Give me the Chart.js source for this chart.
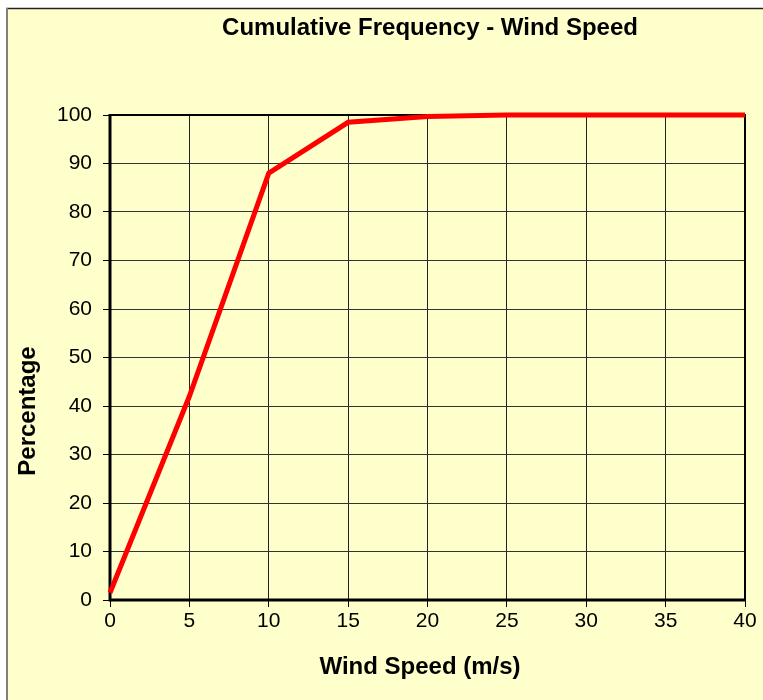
<!DOCTYPE html>
<html>
<head>
<meta charset="utf-8">
<script src="https://cdn.jsdelivr.net/npm/chart.js@4/dist/chart.umd.min.js"></script>
<style>
  html, body { margin: 0; padding: 0; background: #ffffff; }
  #wrap { width: 763px; height: 700px; position: relative; }
</style>
</head>
<body>
<div id="wrap"><canvas id="c" width="763" height="700"></canvas></div>
<script>
// Wind speed bins (m/s) and cumulative frequency (%)
const windSpeed = [0, 5, 10, 15, 20, 25, 30, 35, 40];
const cumulativePct = [1.5, 42, 88, 98.5, 99.7, 100, 100, 100, 100];
const xTicks = [0, 5, 10, 15, 20, 25, 30, 35, 40];
const yTicks = [0, 10, 20, 30, 40, 50, 60, 70, 80, 90, 100];

const chartTitle = 'Cumulative Frequency - Wind Speed';
const xTitle = 'Wind Speed (m/s)';
const yTitle = 'Percentage';

const FONT = 'Arial, "Liberation Sans", Helvetica, sans-serif';
const BG = '#FFFFCC';

const frame = {
  id: 'frame',
  beforeDraw(chart) {
    const ctx = chart.ctx;
    ctx.save();
    ctx.fillStyle = '#ffffff';
    ctx.fillRect(0, 0, chart.width, chart.height);
    ctx.fillStyle = BG;
    ctx.fillRect(7, 9, chart.width - 7, chart.height - 9);
    ctx.lineWidth = 1.5;
    ctx.strokeStyle = '#222222';
    ctx.beginPath();
    ctx.moveTo(6, 8.5);
    ctx.lineTo(chart.width, 8.5);
    ctx.stroke();
    ctx.strokeStyle = '#808080';
    ctx.lineWidth = 2;
    ctx.beginPath();
    ctx.moveTo(7, 8);
    ctx.lineTo(7, chart.height);
    ctx.stroke();
    ctx.restore();
  },
  beforeDatasetsDraw(chart) {
    const a = chart.chartArea;
    const ctx = chart.ctx;
    ctx.save();
    ctx.strokeStyle = '#000000';
    ctx.lineWidth = 2;
    ctx.beginPath();
    ctx.moveTo(a.left, a.top);
    ctx.lineTo(a.right, a.top);
    ctx.lineTo(a.right, a.bottom);
    ctx.stroke();
    ctx.lineWidth = 3;
    ctx.beginPath();
    ctx.moveTo(a.left, a.top - 1);
    ctx.lineTo(a.left, a.bottom);
    ctx.lineTo(a.right + 1, a.bottom);
    ctx.stroke();
    ctx.restore();
  },
  afterDraw(chart) {
    const ctx = chart.ctx;
    ctx.save();
    ctx.fillStyle = '#000000';
    ctx.textAlign = 'center';
    ctx.textBaseline = 'middle';
    ctx.font = 'bold 24px ' + FONT;
    ctx.fillText(chartTitle, 430, 28);
    ctx.fillText(xTitle, 420, 667);
    ctx.translate(28, 411);
    ctx.rotate(-Math.PI / 2);
    ctx.fillText(yTitle, 0, 0);
    ctx.restore();
  }
};

new Chart(document.getElementById('c'), {
  type: 'line',
  data: {
    datasets: [{
      data: windSpeed.map((x, i) => ({ x, y: cumulativePct[i] })),
      borderColor: '#FF0000',
      borderWidth: 5,
      pointRadius: 0,
      tension: 0,
      fill: false,
      clip: false
    }]
  },
  options: {
    responsive: false,
    animation: false,
    devicePixelRatio: 1,
    layout: { padding: { top: 115, right: 18, left: 0, bottom: 0 } },
    plugins: { legend: { display: false }, title: { display: false }, tooltip: { enabled: false } },
    scales: {
      x: {
        type: 'linear',
        min: 0, max: 40,
        afterFit(s) { s.height = 100; },
        afterBuildTicks(s) { s.ticks = xTicks.map(v => ({ value: v })); },
        border: { display: false },
        grid: { color: '#222222', lineWidth: 1, drawTicks: true, tickLength: 7, tickColor: '#000000' },
        ticks: { color: '#000000', font: { family: FONT, size: 21 }, padding: 2, maxRotation: 0 }
      },
      y: {
        min: 0, max: 100,
        afterFit(s) { s.width = 110; },
        afterBuildTicks(s) { s.ticks = yTicks.map(v => ({ value: v })); },
        border: { display: false },
        grid: { color: '#333333', lineWidth: 1, borderDash: [2, 2], drawTicks: true, tickLength: 7, tickColor: '#000000', tickBorderDash: [] },
        ticks: { color: '#000000', font: { family: FONT, size: 21 }, padding: 11 }
      }
    }
  },
  plugins: [frame]
});
</script>
</body>
</html>
